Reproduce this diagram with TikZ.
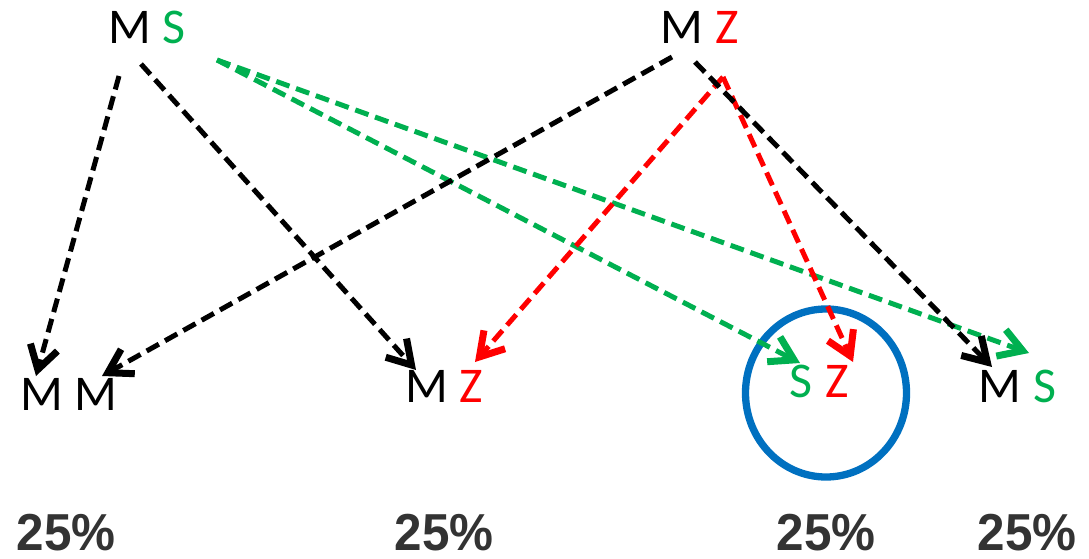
\documentclass[tikz,border=0pt]{standalone}
\usepackage{fontspec}
\setmainfont{Carlito}
\newfontfamily\pctfont{Liberation Sans}
\usetikzlibrary{arrows.meta,calc}
\definecolor{xgreen}{HTML}{00B050}
\definecolor{xred}{HTML}{FF0000}
\definecolor{xblue}{HTML}{0070C0}
\definecolor{xgray}{HTML}{333333}
\begin{document}
\begin{tikzpicture}[x=1pt,y=-1pt,
  letter/.style={inner sep=0pt, font=\fontsize{50}{60}\selectfont},
  pct/.style={inner sep=0pt, anchor=base, text=xgray, font=\pctfont\bfseries\fontsize{52}{60}\selectfont},
  conn/.style={line width=5pt, dash pattern=on 14pt off 7pt, line cap=butt,
    -{Straight Barb[length=23pt,width=28pt,line width=7pt]}},
  blk/.style={conn, draw=black},
  grn/.style={conn, draw=xgreen},
  rd/.style={conn, draw=xred},
  ring/.style={draw=xblue, line width=7.3pt}
]
\useasboundingbox (0,0) rectangle (1089,559);

% top
\node[letter] (msM) at (130,27) {M};
\node[letter, text=xgreen] (msS) at (174,27) {S};
\node[letter] (mzM) at (682,27) {M};
\node[letter, text=xred] (mzZ) at (727,27) {Z};
% bottom
\node[letter] (bM1) at (42,394) {M};
\node[letter] (bM2) at (96,394) {M};
\node[letter] (bzM) at (427,386) {M};
\node[letter, text=xred] (bzZ) at (471,386) {Z};
\node[letter, text=xgreen] (szS) at (801,381) {S};
\node[letter, text=xred] (szZ) at (837,381) {Z};
\node[letter] (rsM) at (1000,386) {M};
\node[letter, text=xgreen] (rsS) at (1045,386) {S};

% circle
\draw[ring] (826,393) ellipse [x radius=80.5pt, y radius=84pt];

% green
\draw[grn] ($(msS)+(43,33)$) -- ($(szS)+(-1,-18)$);
\draw[grn] ($(msS)+(43,33)$) -- ($(rsS)+(-16,-33)$);
% red
\draw[rd] ($(mzZ)+(-4,50)$) -- ($(bzZ)+(4,-24)$);
\draw[rd] ($(mzZ)+(-4,50)$) -- ($(szZ)+(16,-19)$);
% black
\draw[blk] ($(msM)+(-11,49)$) -- ($(bM1)+(-6,-18)$);
\draw[blk] ($(msM)+(11,37)$) -- ($(bzM)+(-11,-16)$);
\draw[blk] ($(mzM)+(-10,30)$) -- ($(bM2)+(6,-18)$);
\draw[blk] ($(mzM)+(13,35)$) -- ($(rsM)+(-8,-19)$);

% percentages
\node[pct] (p1) at (66,550) {\scalebox{0.95}[1]{25\%}};
\node[pct] (p2) at (444,550) {\scalebox{0.95}[1]{25\%}};
\node[pct] (p3) at (826,550) {\scalebox{0.95}[1]{25\%}};
\node[pct] (p4) at (1027,550) {\scalebox{0.95}[1]{25\%}};
\end{tikzpicture}
\end{document}
